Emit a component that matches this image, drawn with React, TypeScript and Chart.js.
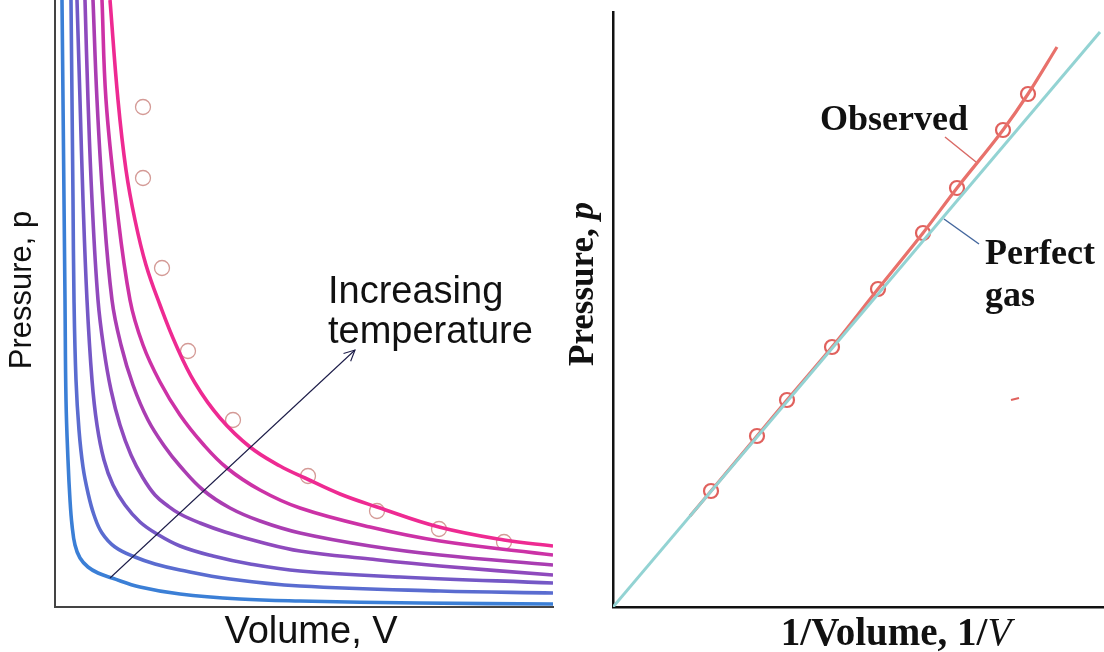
import React, { useEffect, useRef } from "react";
import { Chart, registerables } from "chart.js";

Chart.register(...registerables);

// ---------- Left panel: isotherms, pressure vs volume (arbitrary units) ----------
const isoT1: [number, number][] = [[1.4,121.4],[1.6,101.4],[1.8,81.4],[2.0,61.4],[2.2,41.4],[2.6,29.4],[3.0,21.4],[3.4,16.4],[4.0,12.4],[5.0,9.8],[6.6,8.0],[8.6,6.8],[11.4,5.8],[17.0,4.0],[25.0,2.6],[37.0,1.6],[49.0,1.2],[73.0,0.8],[99.6,0.6]];
const isoT2: [number, number][] = [[3.2,121.4],[3.4,101.4],[3.6,81.4],[3.8,61.4],[4.2,45.4],[4.8,35.4],[5.6,28.0],[6.6,22.8],[7.8,18.4],[9.4,14.8],[12.0,12.0],[16.0,10.0],[20.0,8.6],[25.0,7.4],[35.0,5.6],[49.0,4.2],[77.0,3.2],[99.6,2.8]];
const isoT3: [number, number][] = [[4.4,121.4],[5.0,101.4],[5.6,81.4],[6.4,61.4],[7.4,45.4],[8.4,36.4],[9.8,29.4],[11.6,24.4],[14.0,20.4],[17.0,17.0],[20.4,14.6],[25.0,12.2],[31.6,10.2],[39.0,8.6],[49.0,7.2],[69.0,6.0],[99.6,4.8]];
const isoT4: [number, number][] = [[6.0,121.4],[6.6,101.4],[7.4,81.4],[8.6,61.4],[9.8,51.4],[11.2,43.4],[13.0,36.4],[15.2,30.4],[17.6,25.8],[20.0,22.4],[22.6,20.2],[25.0,18.6],[29.0,16.8],[34.0,15.0],[41.0,13.0],[49.0,11.2],[63.0,9.6],[77.0,8.2],[99.6,6.4]];
const isoT5: [number, number][] = [[7.6,121.4],[8.4,101.4],[9.6,81.4],[11.4,61.4],[13.2,52.4],[15.6,44.4],[18.6,37.4],[22.0,32.0],[25.0,28.2],[29.6,23.4],[35.0,19.8],[41.0,17.2],[49.0,14.8],[63.0,12.2],[77.0,10.4],[99.6,8.4]];
const isoT6: [number, number][] = [[9.4,121.4],[10.2,101.4],[12.2,81.4],[15.0,61.4],[17.6,52.4],[21.0,45.0],[25.0,38.4],[29.6,32.6],[34.4,27.8],[41.0,23.4],[49.0,19.8],[63.0,16.0],[77.0,13.2],[99.6,10.4]];
const isoT7: [number, number][] = [[11.0,121.4],[12.6,101.4],[14.2,87.4],[16.0,77.4],[18.2,68.4],[21.0,60.4],[24.2,52.4],[28.0,44.8],[33.0,37.8],[39.0,32.0],[45.0,28.2],[50.0,25.8],[57.0,22.6],[64.4,20.0],[76.8,16.0],[89.8,13.4],[99.6,12.2]];
const isotherms = [isoT1, isoT2, isoT3, isoT4, isoT5, isoT6, isoT7];
const isothermColors = ["#3b7fd6", "#5a6cd0", "#7458c6", "#8f4abd", "#aa3db2", "#cc32a6", "#ee2a92"];

const realGasV = [17.6, 17.6, 21.4, 26.6, 35.6, 50.6, 64.4, 76.8, 89.8];
const realGasP = [100, 85.8, 67.8, 51.2, 37.4, 26.2, 19.2, 15.6, 13];

// ---------- Right panel: pressure vs 1/volume ----------
const perfectInvV = [0, 97.4];
const perfectP = [0, 115];
const observedLineInvV = [15.4, 19.6, 28.8, 34.8, 43.8, 53, 62, 68.8, 78, 83, 88.8];
const observedLineP = [18.2, 23.2, 34.2, 41.4, 52.0, 63.6, 74.8, 83.8, 95.4, 102.6, 112];
const observedPtsInvV = [19.6, 28.8, 34.8, 43.8, 53, 62, 68.8, 78, 83];
const observedPtsP = [23.2, 34.2, 41.4, 52.0, 63.6, 74.8, 83.8, 95.4, 102.6];
const observedLeaderInvV = [66.4, 72.6];
const observedLeaderP = [94, 89];
const perfectLeaderInvV = [66.2, 73.2];
const perfectLeaderP = [77.6, 72.6];
const strayMarkInvV = [79.6, 81.2];
const strayMarkP = [41.4, 41.8];

const SANS = '"Liberation Sans", Arial, sans-serif';
const SERIF = '"Liberation Serif", "Times New Roman", serif';

type Seg = { t: string; font: string };

function drawRich(ctx: CanvasRenderingContext2D, segs: Seg[], x: number, y: number, rot: number, align: "center" | "left", color = "#111") {
  ctx.save();
  ctx.translate(x, y);
  ctx.rotate(rot);
  ctx.fillStyle = color;
  ctx.textBaseline = "middle";
  ctx.textAlign = "left";
  let total = 0;
  for (const s of segs) {
    ctx.font = s.font;
    total += ctx.measureText(s.t).width;
  }
  let cx = align === "center" ? -total / 2 : 0;
  for (const s of segs) {
    ctx.font = s.font;
    ctx.fillText(s.t, cx, 0);
    cx += ctx.measureText(s.t).width;
  }
  ctx.restore();
}

const pts = (xs: number[], ys: number[]) => xs.map((x, i) => ({ x, y: ys[i] }));

function LeftChart() {
  const ref = useRef<HTMLCanvasElement>(null);
  useEffect(() => {
    const canvas = ref.current!;
    const datasets: any[] = isotherms.map((c, i) => ({
      type: "line",
      label: `T${i + 1}`,
      data: c.map(([x, y]) => ({ x, y })),
      borderColor: isothermColors[i],
      borderWidth: 3.6,
      pointRadius: 0,
      tension: 0.4,
      fill: false,
    }));
    datasets.push({
      type: "scatter",
      label: "Real gas",
      data: pts(realGasV, realGasP),
      pointRadius: 7.5,
      pointBorderWidth: 1.3,
      pointBackgroundColor: "rgba(255,255,255,0.9)",
      pointBorderColor: "#d49a96",
      showLine: false,
    });
    const annot = {
      id: "leftAnnot",
      afterDraw(chart: any) {
        const ctx = chart.ctx as CanvasRenderingContext2D;
        const xs = chart.scales.x, ys = chart.scales.y;
        // arrow
        const x0 = xs.getPixelForValue(11), y0 = ys.getPixelForValue(5.8);
        const x1 = xs.getPixelForValue(60), y1 = ys.getPixelForValue(51.4);
        ctx.save();
        ctx.strokeStyle = "#1c1c48";
        ctx.lineWidth = 1.1;
        ctx.beginPath();
        ctx.moveTo(x0, y0);
        ctx.lineTo(x1, y1);
        ctx.stroke();
        const ang = Math.atan2(y1 - y0, x1 - x0);
        const L = 12;
        ctx.beginPath();
        ctx.moveTo(x1 - L * Math.cos(ang - 0.45), y1 - L * Math.sin(ang - 0.45));
        ctx.lineTo(x1, y1);
        ctx.lineTo(x1 - L * Math.cos(ang + 0.45), y1 - L * Math.sin(ang + 0.45));
        ctx.stroke();
        ctx.restore();
        // labels
        const tx = xs.getPixelForValue(54.6);
        drawRich(ctx, [{ t: "Increasing", font: `38px ${SANS}` }], tx, ys.getPixelForValue(62.8), 0, "left");
        drawRich(ctx, [{ t: "temperature", font: `38px ${SANS}` }], tx, ys.getPixelForValue(54.8), 0, "left");
        drawRich(ctx, [{ t: "Pressure, p", font: `31px ${SANS}` }], 22, 290, -Math.PI / 2, "center");
        drawRich(ctx, [{ t: "Volume, V", font: `38px ${SANS}` }], 311, 633, 0, "center");
      },
    };
    const chart = new Chart(canvas, {
      type: "line",
      data: { datasets },
      options: {
        responsive: false,
        animation: false,
        layout: { autoPadding: false, padding: { left: 55, right: 7, top: 0, bottom: 45 } },
        plugins: { legend: { display: false }, tooltip: { enabled: false } },
        scales: {
          x: {
            type: "linear", min: 0, max: 99.6,
            ticks: { display: false },
            grid: { display: false, drawTicks: false },
            border: { display: true, color: "#444", width: 2 },
          },
          y: {
            type: "linear", min: 0, max: 121.4,
            ticks: { display: false },
            grid: { display: false, drawTicks: false },
            border: { display: true, color: "#444", width: 2 },
          },
        },
      },
      plugins: [annot],
    } as any);
    return () => chart.destroy();
  }, []);
  return <canvas ref={ref} width={560} height={652} style={{ position: "absolute", left: 0, top: 0, width: 560, height: 652 }} />;
}

function RightChart() {
  const ref = useRef<HTMLCanvasElement>(null);
  useEffect(() => {
    const canvas = ref.current!;
    const datasets: any[] = [
      {
        type: "line", label: "Perfect gas", data: pts(perfectInvV, perfectP),
        borderColor: "#93d3d3", borderWidth: 3, pointRadius: 0,
      },
      {
        type: "line", label: "Observed", data: pts(observedLineInvV, observedLineP),
        borderColor: "#e8716b", borderWidth: 3.2, pointRadius: 0, cubicInterpolationMode: "monotone",
      },
      {
        type: "scatter", label: "Observed points", data: pts(observedPtsInvV, observedPtsP),
        pointRadius: 7, pointBorderWidth: 2.2, pointBackgroundColor: "#ffffff", pointBorderColor: "#e0615d", showLine: false,
      },
      {
        type: "line", label: "Observed leader", data: pts(observedLeaderInvV, observedLeaderP),
        borderColor: "#d96a66", borderWidth: 1.5, pointRadius: 0,
      },
      {
        type: "line", label: "Perfect leader", data: pts(perfectLeaderInvV, perfectLeaderP),
        borderColor: "#45689e", borderWidth: 1.5, pointRadius: 0,
      },
      {
        type: "line", label: "mark", data: pts(strayMarkInvV, strayMarkP),
        borderColor: "#e0615d", borderWidth: 2, pointRadius: 0,
      },
    ];
    const annot = {
      id: "rightAnnot",
      afterDraw(chart: any) {
        const ctx = chart.ctx as CanvasRenderingContext2D;
        const xs = chart.scales.x, ys = chart.scales.y;
        const B = `bold 36px ${SERIF}`;
        drawRich(ctx, [{ t: "Observed", font: B }], xs.getPixelForValue(41.4), ys.getPixelForValue(97.2), 0, "left");
        drawRich(ctx, [{ t: "Perfect", font: B }], xs.getPixelForValue(74.4), ys.getPixelForValue(70.4), 0, "left");
        drawRich(ctx, [{ t: "gas", font: B }], xs.getPixelForValue(74.4), ys.getPixelForValue(62), 0, "left");
        drawRich(ctx, [
          { t: "Pressure, ", font: `bold 35px ${SERIF}` },
          { t: "p", font: `italic bold 35px ${SERIF}` },
        ], 24, 284, -Math.PI / 2, "center");
        drawRich(ctx, [
          { t: "1/Volume, 1/", font: `bold 39px ${SERIF}` },
          { t: "V", font: `italic 39px ${SERIF}` },
        ], 336, 635, 0, "center");
      },
    };
    const chart = new Chart(canvas, {
      type: "line",
      data: { datasets },
      options: {
        responsive: false,
        animation: false,
        layout: { autoPadding: false, padding: { left: 53, right: 0, top: 12, bottom: 45 } },
        plugins: { legend: { display: false }, tooltip: { enabled: false } },
        scales: {
          x: {
            type: "linear", min: 0, max: 98.2,
            ticks: { display: false },
            grid: { display: false, drawTicks: false },
            border: { display: true, color: "#111", width: 2.5 },
          },
          y: {
            type: "linear", min: 0, max: 119,
            ticks: { display: false },
            grid: { display: false, drawTicks: false },
            border: { display: true, color: "#111", width: 2.5 },
          },
        },
      },
      plugins: [annot],
    } as any);
    return () => chart.destroy();
  }, []);
  return <canvas ref={ref} width={544} height={652} style={{ position: "absolute", left: 560, top: 0, width: 544, height: 652 }} />;
}

export default function App() {
  return (
    <div style={{ position: "fixed", left: 0, top: 0, width: 1104, height: 652, background: "#ffffff", overflow: "hidden" }}>
      <LeftChart />
      <RightChart />
    </div>
  );
}
